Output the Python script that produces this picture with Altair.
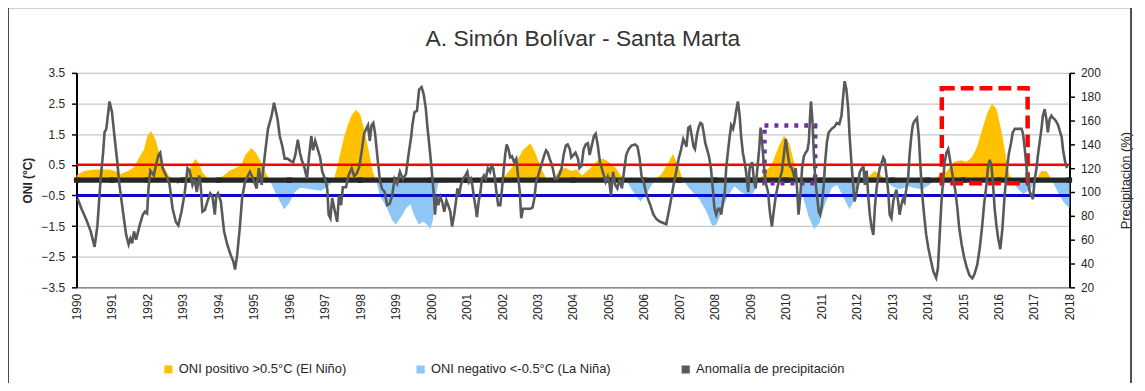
import altair as alt
import pandas as pd

# ---------------- data ----------------
year_ticks = list(range(1990, 2019))
oni_ticks = [-3.5, -2.5, -1.5, -0.5, 0.5, 1.5, 2.5, 3.5]
pct_ticks = [20, 40, 60, 80, 100, 120, 140, 160, 180, 200]

oni_year = [1990.0, 1990.2, 1990.5, 1990.9, 1991.1, 1991.25, 1991.45, 1991.6, 1991.75, 1991.9,
            1992.0, 1992.1, 1992.22, 1992.33, 1992.45, 1992.6, 1992.75, 1992.85, 1992.97, 1993.1,
            1993.25, 1993.35, 1993.45, 1993.55, 1993.7, 1993.85, 1994.0, 1994.15, 1994.3, 1994.5,
            1994.65, 1994.75, 1994.93, 1995.05, 1995.2, 1995.35, 1995.45, 1995.6, 1995.85, 1996.0,
            1996.15, 1996.3, 1996.6, 1996.9, 1997.1, 1997.25, 1997.35, 1997.5, 1997.62, 1997.75,
            1997.88, 1998.0, 1998.12, 1998.25, 1998.35, 1998.45, 1998.55, 1998.75, 1998.9, 1999.0,
            1999.15, 1999.3, 1999.42, 1999.5, 1999.65, 1999.78, 1999.92, 1999.97, 2000.05, 2000.12,
            2000.2, 2000.6, 2001.0, 2001.4, 2001.8, 2002.0, 2002.1, 2002.4, 2002.6, 2002.8,
            2002.95, 2003.1, 2003.22, 2003.35, 2003.5, 2003.62, 2003.8, 2003.95, 2004.1, 2004.25,
            2004.45, 2004.7, 2004.85, 2005.0, 2005.2, 2005.35, 2005.5, 2005.65, 2005.9, 2006.1,
            2006.3, 2006.5, 2006.7, 2006.82, 2006.95, 2007.1, 2007.3, 2007.55, 2007.75, 2007.93,
            2008.05, 2008.2, 2008.35, 2008.55, 2008.75, 2008.85, 2009.0, 2009.1, 2009.25, 2009.45,
            2009.6, 2009.8, 2009.95, 2010.1, 2010.25, 2010.35, 2010.5, 2010.65, 2010.8, 2010.95,
            2011.1, 2011.3, 2011.45, 2011.6, 2011.8, 2011.95, 2012.1, 2012.25, 2012.5, 2012.65,
            2012.8, 2013.0, 2013.2, 2013.45, 2013.6, 2013.85, 2014.05, 2014.2, 2014.35, 2014.55,
            2014.75, 2014.95, 2015.1, 2015.25, 2015.4, 2015.55, 2015.7, 2015.82, 2015.95, 2016.1,
            2016.2, 2016.3, 2016.38, 2016.55, 2016.7, 2016.9, 2017.05, 2017.2, 2017.35, 2017.5,
            2017.7, 2017.85, 2018.0]
oni_value = [0.15, 0.3, 0.35, 0.35, 0.3, 0.2, 0.3, 0.4, 0.7, 1.0,
             1.45, 1.6, 1.35, 0.9, 0.45, 0.15, 0.0, -0.15, 0.0, 0.15,
             0.5, 0.7, 0.55, 0.25, 0.05, 0.05, 0.05, 0.15, 0.3, 0.4,
             0.5, 0.8, 1.05, 0.9, 0.6, 0.2, 0.0, -0.4, -0.95, -0.75,
             -0.4, -0.25, -0.3, -0.35, -0.2, 0.0, 0.4, 1.2, 1.7, 2.1,
             2.3, 2.15, 1.6, 0.9, 0.3, 0.0, -0.5, -0.9, -1.3, -1.45,
             -1.2, -0.9, -0.8, -1.1, -1.45, -1.35, -1.5, -1.6, -1.3, -0.6,
             -0.1, -0.05, -0.1, -0.05, 0.0, 0.05, 0.15, 0.6, 1.0, 1.2,
             0.85, 0.4, 0.1, 0.0, 0.1, 0.35, 0.4, 0.3, 0.35, 0.15,
             0.35, 0.65, 0.7, 0.6, 0.4, 0.15, 0.0, -0.3, -0.7, -0.4,
             0.0, 0.2, 0.6, 0.85, 0.5, 0.0, -0.3, -0.6, -1.0, -1.5,
             -1.45, -1.0, -0.55, -0.2, -0.4, -0.45, -0.5, -0.4, 0.0, 0.3,
             0.5, 1.1, 1.45, 1.2, 0.5, 0.0, -0.6, -1.2, -1.6, -1.4,
             -0.8, -0.25, -0.15, -0.5, -0.95, -0.6, -0.1, 0.0, 0.3, 0.2,
             0.0, -0.2, -0.3, -0.2, -0.25, -0.3, -0.15, 0.0, 0.2, 0.3,
             0.6, 0.65, 0.6, 0.75, 1.1, 1.7, 2.25, 2.5, 2.3, 1.5,
             0.8, 0.2, 0.0, -0.3, -0.45, -0.3, 0.0, 0.3, 0.3, 0.0,
             -0.45, -0.75, -0.9]

precip_year = [1990.03, 1990.14, 1990.28, 1990.40, 1990.51, 1990.59, 1990.68, 1990.75, 1990.79, 1990.84,
               1990.93, 1991.00, 1991.07, 1991.15, 1991.21, 1991.31, 1991.40, 1991.47, 1991.52, 1991.57,
               1991.62, 1991.68, 1991.78, 1991.87, 1991.93, 1991.99, 1992.03, 1992.08, 1992.18, 1992.25,
               1992.31, 1992.36, 1992.43, 1992.52, 1992.62, 1992.71, 1992.80, 1992.87, 1992.96, 1993.05,
               1993.13, 1993.19, 1993.27, 1993.33, 1993.39, 1993.46, 1993.50, 1993.55, 1993.62, 1993.69,
               1993.77, 1993.83, 1993.90, 1993.94, 1993.99, 1994.07, 1994.16, 1994.25, 1994.35, 1994.42,
               1994.47, 1994.53, 1994.61, 1994.67, 1994.75, 1994.89, 1994.98, 1995.08, 1995.14, 1995.22,
               1995.31, 1995.40, 1995.50, 1995.57, 1995.67, 1995.73, 1995.80, 1995.87, 1995.95, 1996.04,
               1996.11, 1996.17, 1996.24, 1996.30, 1996.36, 1996.43, 1996.50, 1996.55, 1996.62, 1996.67,
               1996.73, 1996.80, 1996.87, 1996.93, 1997.01, 1997.07, 1997.11, 1997.16, 1997.21, 1997.27,
               1997.35, 1997.40, 1997.46, 1997.51, 1997.60, 1997.67, 1997.76, 1997.83, 1997.91, 1997.98,
               1998.05, 1998.11, 1998.17, 1998.22, 1998.27, 1998.32, 1998.37, 1998.42, 1998.48, 1998.55,
               1998.61, 1998.69, 1998.76, 1998.83, 1998.90, 1998.97, 1999.04, 1999.12, 1999.20, 1999.29,
               1999.37, 1999.44, 1999.47, 1999.53, 1999.60, 1999.66, 1999.73, 1999.79, 1999.85, 1999.90,
               1999.96, 2000.01, 2000.07, 2000.11, 2000.15, 2000.20, 2000.26, 2000.31, 2000.37, 2000.43,
               2000.48, 2000.54, 2000.59, 2000.65, 2000.70, 2000.74, 2000.79, 2000.84, 2000.90, 2000.97,
               2001.02, 2001.07, 2001.12, 2001.16, 2001.21, 2001.26, 2001.29, 2001.34, 2001.39, 2001.43,
               2001.49, 2001.54, 2001.60, 2001.66, 2001.70, 2001.75, 2001.80, 2001.84, 2001.89, 2001.95,
               2001.99, 2002.04, 2002.09, 2002.13, 2002.18, 2002.23, 2002.28, 2002.34, 2002.40, 2002.45,
               2002.50, 2002.54, 2002.59, 2002.66, 2002.72, 2002.80, 2002.86, 2002.91, 2002.96, 2003.02,
               2003.08, 2003.13, 2003.19, 2003.24, 2003.29, 2003.34, 2003.38, 2003.43, 2003.49, 2003.55,
               2003.62, 2003.68, 2003.74, 2003.80, 2003.85, 2003.91, 2003.95, 2004.01, 2004.07, 2004.14,
               2004.18, 2004.24, 2004.30, 2004.36, 2004.42, 2004.47, 2004.53, 2004.59, 2004.64, 2004.70,
               2004.76, 2004.81, 2004.87, 2004.92, 2004.98, 2005.03, 2005.07, 2005.13, 2005.19, 2005.25,
               2005.32, 2005.38, 2005.45, 2005.50, 2005.57, 2005.65, 2005.75, 2005.82, 2005.88, 2005.93,
               2006.01, 2006.08, 2006.18, 2006.27, 2006.36, 2006.46, 2006.63, 2006.70, 2006.77, 2006.85,
               2006.91, 2006.98, 2007.05, 2007.11, 2007.15, 2007.20, 2007.25, 2007.30, 2007.35, 2007.40,
               2007.44, 2007.49, 2007.54, 2007.59, 2007.64, 2007.69, 2007.73, 2007.78, 2007.84, 2007.89,
               2007.95, 2007.99, 2008.04, 2008.09, 2008.14, 2008.18, 2008.23, 2008.28, 2008.32, 2008.37,
               2008.42, 2008.46, 2008.51, 2008.55, 2008.60, 2008.65, 2008.70, 2008.74, 2008.79, 2008.84,
               2008.88, 2008.94, 2008.98, 2009.05, 2009.11, 2009.15, 2009.20, 2009.25, 2009.29, 2009.34,
               2009.39, 2009.44, 2009.50, 2009.55, 2009.61, 2009.67, 2009.72, 2009.78, 2009.83, 2009.89,
               2009.95, 2010.00, 2010.06, 2010.11, 2010.17, 2010.23, 2010.28, 2010.33, 2010.36, 2010.41,
               2010.46, 2010.51, 2010.56, 2010.61, 2010.65, 2010.68, 2010.71, 2010.75, 2010.79, 2010.83,
               2010.88, 2010.93, 2010.97, 2011.02, 2011.07, 2011.11, 2011.16, 2011.21, 2011.29, 2011.38,
               2011.44, 2011.51, 2011.57, 2011.62, 2011.66, 2011.71, 2011.76, 2011.80, 2011.85, 2011.90,
               2011.94, 2012.00, 2012.05, 2012.09, 2012.15, 2012.19, 2012.23, 2012.28, 2012.33, 2012.37,
               2012.42, 2012.47, 2012.51, 2012.56, 2012.61, 2012.65, 2012.70, 2012.75, 2012.79, 2012.84,
               2012.89, 2012.93, 2012.98, 2013.03, 2013.07, 2013.12, 2013.17, 2013.21, 2013.26, 2013.31,
               2013.35, 2013.40, 2013.45, 2013.49, 2013.54, 2013.58, 2013.62, 2013.70, 2013.75, 2013.80,
               2013.85, 2013.90, 2013.96, 2014.02, 2014.09, 2014.16, 2014.24, 2014.29, 2014.34, 2014.39,
               2014.44, 2014.48, 2014.53, 2014.58, 2014.62, 2014.67, 2014.72, 2014.78, 2014.84, 2014.89,
               2014.96, 2015.03, 2015.11, 2015.18, 2015.26, 2015.32, 2015.40, 2015.47, 2015.54, 2015.59,
               2015.65, 2015.70, 2015.75, 2015.80, 2015.84, 2015.89, 2015.94, 2015.99, 2016.05, 2016.11,
               2016.17, 2016.24, 2016.29, 2016.35, 2016.40, 2016.46, 2016.55, 2016.65, 2016.69, 2016.74,
               2016.79, 2016.83, 2016.88, 2016.93, 2016.97, 2017.02, 2017.07, 2017.11, 2017.16, 2017.21,
               2017.25, 2017.30, 2017.35, 2017.39, 2017.44, 2017.49, 2017.53, 2017.58, 2017.63, 2017.68,
               2017.73, 2017.78, 2017.82, 2017.88, 2017.93]
precip_pct = [94.6, 86, 76.5, 67, 54, 72, 111, 133, 150, 153,
              176, 167, 147, 125, 106, 83.5, 64, 56, 61, 57,
              67, 60, 72, 81, 83.5, 82, 103, 118, 114, 124,
              131, 133, 120, 114, 107, 86, 75, 72, 83.5, 99,
              120, 118, 106, 111, 100, 114, 106, 83.5, 85, 92,
              99, 97, 81, 97, 99, 92, 67, 56, 47, 42,
              35, 47, 72, 95, 108.5, 117, 111, 103, 120, 106,
              131, 153, 164, 175, 161, 147, 139, 128, 128, 126,
              125, 131, 144, 133, 126, 120, 111, 128, 147, 135,
              143, 136, 129, 117, 111, 103, 81, 78, 95, 86,
              75, 97, 89, 104, 104, 114, 120, 113, 116, 122,
              136, 149, 153, 156, 143, 156, 158, 149, 131, 111,
              103, 100, 89, 90, 97, 111, 107, 117, 111, 115,
              133, 147, 156, 167, 168, 186, 188, 182, 170, 153,
              136, 120, 100, 81, 97, 89, 96, 92, 83.5, 93,
              89, 83.5, 71, 81, 92, 103, 97, 106, 111, 114,
              117, 108.5, 111, 106, 95, 86, 79, 92, 100, 111,
              114, 111, 120, 117, 122, 120, 111, 100, 89, 89,
              100, 117, 132, 140, 136, 129, 130, 125, 128, 114,
              100, 78, 86, 86, 86, 86, 87, 94.6, 108.5, 114,
              120, 125, 131, 135, 133, 128, 125, 120, 111, 111,
              115, 120, 132, 139, 140, 136, 129, 131, 133, 128,
              120, 122, 136, 140, 141, 131, 139, 147, 149, 139,
              125, 120, 114, 108.5, 113, 107, 97, 117, 106, 103,
              111, 103, 120, 131, 136, 139, 140, 138, 128, 114,
              106, 97, 89, 81, 77, 75, 73, 83.5, 94.6, 108.5,
              117, 128, 136, 144.5, 142, 138, 154, 155, 147, 138,
              136, 147, 154, 158, 157, 149, 141, 136, 129, 120,
              100, 86, 81, 86, 86, 81, 92, 100, 120, 134,
              147, 156, 153, 158, 168, 176, 164, 147, 133, 125,
              117, 100, 120, 125, 108.5, 103, 120, 136, 154, 139,
              120, 107, 100, 83.5, 71, 86, 97, 106, 111, 117,
              132, 144.5, 131, 122, 120, 114, 120, 97, 81, 97,
              120, 130, 133, 135, 142, 161, 176, 161, 133, 111,
              97, 83.5, 81, 89, 106, 125, 142, 150, 153, 155,
              158, 157, 164, 181, 193, 186, 170, 147, 125, 106,
              92, 100, 110, 117, 120, 121, 106, 118, 95, 81,
              70, 64, 86, 103, 114, 120, 124, 129, 127, 114,
              100, 81, 78, 92, 97, 102, 92, 81, 89, 95,
              92, 103, 111, 131, 147, 156, 159, 162, 147, 120,
              97, 81, 64, 53, 43, 33.5, 28, 36, 64, 92,
              111, 125, 133, 136, 129, 120, 111, 101.5, 86, 70,
              56, 45, 36, 30, 27.5, 31, 39, 53, 72, 89,
              104, 120, 127, 122, 108.5, 86, 72, 61, 52, 70,
              97, 120, 132, 141, 150, 153, 153, 153, 149, 136,
              120, 108.5, 100, 97, 94, 111, 120, 131, 142, 153,
              164, 169.5, 161, 150, 161, 164, 162.5, 161, 159, 156,
              151, 146, 135, 125, 120]

series_labels = ["ONI positivo >0.5°C (El Niño)",
                 "ONI negativo <-0.5°C (La Niña)",
                 "Anomalía de precipitación"]
series_colors = ["#FFC000", "#8EC6F5", "#595959"]

threshold_values = [0.5, -0.5, 0.0]
threshold_colors = ["#FF0000", "#0A0ACC", "#262626"]
threshold_widths = [2.5, 3.0, 5.5]

box_x0 = [2009.40, 2014.40]
box_x1 = [2010.83, 2016.82]
box_y0 = [-0.10, -0.10]
box_y1 = [1.78, 3.00]
box_colors = ["#7030A0", "#FF0000"]
box_dashes = [[4, 6], [13, 6]]

# ---------------- tables ----------------
oni = pd.DataFrame({"year": oni_year, "oni": oni_value})
pos = pd.DataFrame({"year": oni_year, "v": oni["oni"].clip(lower=0), "serie": series_labels[0]})
neg = pd.DataFrame({"year": oni_year, "v": oni["oni"].clip(upper=0), "serie": series_labels[1]})
prec = pd.DataFrame({"year": precip_year, "pct": precip_pct, "serie": series_labels[2]})
marks0 = pd.DataFrame({"year": year_ticks, "v": [0.0] * len(year_ticks)})

FONT = "Liberation Sans"

x_scale = alt.Scale(domain=[1990, 2018], nice=False, zero=False)
x_axis = alt.Axis(values=year_ticks, format="d", labelAngle=-90, grid=False,
                  title=None, labelFontSize=12, labelFont=FONT, labelColor="#262626",
                  domainColor="#8c8c8c", domainWidth=1.5, ticks=False, labelPadding=6,
                  labelBaseline="middle", labelAlign="right")
x_enc = alt.X("year:Q", scale=x_scale, axis=x_axis)

left_scale = alt.Scale(domain=[-3.5, 3.5], nice=False, zero=False)
left_axis = alt.Axis(values=oni_ticks, format=".1f", title="ONI (°C)", grid=True,
                     gridColor="#c8c8c8", gridWidth=1.2, domainColor="#000000", domainWidth=2,
                     tickColor="#000000", tickSize=5, tickWidth=1.5, labelFontSize=12,
                     labelFont=FONT, labelColor="#262626", labelPadding=7,
                     titleFont=FONT, titleFontSize=12, titleFontWeight="bold", titleColor="#262626",
                     titleAngle=270, titleX=-49, titleY=108, titleAlign="center", titleBaseline="middle")

color_enc = alt.Color("serie:N",
                      scale=alt.Scale(domain=series_labels, range=series_colors),
                      legend=alt.Legend(orient="none", legendX=86, legendY=292, direction="horizontal",
                                        title=None, symbolType="square", symbolSize=45,
                                        labelFontSize=13, labelFont=FONT, labelColor="#262626",
                                        labelLimit=400, columnPadding=68, symbolStrokeWidth=1.5))

area_pos = alt.Chart(pos).mark_area(opacity=1).encode(
    x=x_enc, y=alt.Y("v:Q", scale=left_scale, axis=left_axis), color=color_enc)
area_neg = alt.Chart(neg).mark_area(opacity=1).encode(
    x=x_enc, y=alt.Y("v:Q", scale=left_scale, axis=left_axis), color=color_enc)

rules = []
for val, col, w in zip(threshold_values, threshold_colors, threshold_widths):
    rules.append(
        alt.Chart(pd.DataFrame({"v": [val]})).mark_rule(color=col, strokeWidth=w).encode(
            y=alt.Y("v:Q", scale=left_scale, axis=left_axis)))

year_marks = alt.Chart(marks0).mark_square(size=28, color="#262626", opacity=1).encode(
    x=x_enc, y=alt.Y("v:Q", scale=left_scale, axis=left_axis))

boxes = []
for i in range(len(box_x0)):
    bdf = pd.DataFrame({"x0": [box_x0[i]], "x1": [box_x1[i]], "y0": [box_y0[i]], "y1": [box_y1[i]]})
    boxes.append(
        alt.Chart(bdf).mark_rect(fillOpacity=0, stroke=box_colors[i], strokeWidth=4.5,
                                 strokeDash=box_dashes[i]).encode(
            x=alt.X("x0:Q", scale=x_scale, axis=x_axis),
            x2="x1:Q",
            y=alt.Y("y0:Q", scale=left_scale, axis=left_axis),
            y2="y1:Q"))

frame = alt.Chart(pd.DataFrame({"a": [0]})).mark_rect(
    fillOpacity=0, stroke="#4d4d4d", strokeWidth=2).encode(
    x=alt.value(-69), x2=alt.value(1062), y=alt.value(-66), y2=alt.value(316))

left = alt.layer(area_pos, area_neg, *rules, year_marks, *boxes, frame)

line = alt.Chart(prec).mark_line(strokeWidth=2.6).encode(
    x=x_enc,
    y=alt.Y("pct:Q", scale=alt.Scale(domain=[20, 200], nice=False, zero=False),
            axis=alt.Axis(values=pct_ticks, orient="right", title="Precipitación (%)", grid=False,
                          domainColor="#000000", domainWidth=2, tickColor="#000000", tickSize=5,
                          tickWidth=1.5, labelFontSize=12, labelFont=FONT, labelColor="#262626",
                          labelPadding=6, titleFont=FONT, titleFontSize=13, titleFontWeight="normal",
                          titleColor="#262626", titleAngle=270, titleX=56, titleY=108,
                          titleAlign="center", titleBaseline="middle")),
    color=color_enc)

chart = alt.layer(left, line).resolve_scale(y="independent").properties(
    width=1000, height=216,
    autosize=alt.AutoSizeParams(type="none"),
    padding={"left": 69, "top": 64, "right": 68, "bottom": 95},
    title=alt.TitleParams("A. Simón Bolívar - Santa Marta", fontSize=23, font=FONT,
                          fontWeight="normal", color="#333333", offset=-45, dx=10, anchor="middle"),
).configure_view(stroke="#8c8c8c", strokeWidth=2).configure(background="white")

chart.save("out.html", embed_options={"renderer": "svg", "actions": False})
